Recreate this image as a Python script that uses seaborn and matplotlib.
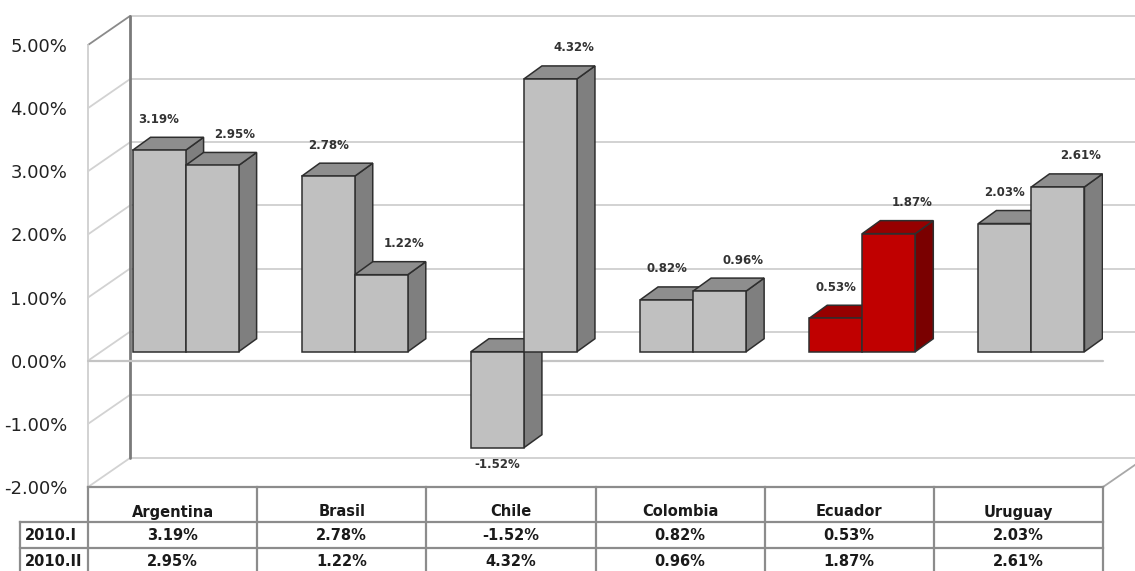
import numpy as np
import pandas as pd
import matplotlib
matplotlib.use("Agg")
import matplotlib.pyplot as plt
import seaborn as sns
from matplotlib.patches import Polygon

# ---------------- data ----------------
countries = ["Argentina", "Brasil", "Chile", "Colombia", "Ecuador", "Uruguay"]
periods = ["2010.I", "2010.II"]
values_2010_I = [3.19, 2.78, -1.52, 0.82, 0.53, 2.03]
values_2010_II = [2.95, 1.22, 4.32, 0.96, 1.87, 2.61]
highlight = "Ecuador"
y_ticks = [-2, -1, 0, 1, 2, 3, 4, 5]

df = pd.DataFrame({
    "country": countries * 2,
    "period": [periods[0]] * len(countries) + [periods[1]] * len(countries),
    "value": values_2010_I + values_2010_II,
})
series_values = {periods[0]: values_2010_I, periods[1]: values_2010_II}

# ---------------- style ----------------
sns.set_style("white")
plt.rcParams["font.family"] = ["DejaVu Sans"]

GRAY = dict(front="#C0C0C0", top="#8E8E8E", side="#7F7F7F")
RED = dict(front="#C00000", top="#960000", side="#7A0000")
EDGE = "#2E2E2E"
GRID = "#D2D2D2"
TABLE_LINE = "#8C8C8C"

W, H = 1135, 571
fig = plt.figure(figsize=(W / 100, H / 100), dpi=100)
fig.patch.set_facecolor("white")

# front plane in pixels
L, R, T, B = 88, 1103, 45, 487
ax = fig.add_axes([L / W, 1 - B / H, (R - L) / W, (B - T) / H])
ax.set_facecolor("none")

sns.barplot(data=df, x="country", y="value", hue="period",
            order=countries, hue_order=periods,
            palette=[GRAY["front"], GRAY["front"]], saturation=1,
            width=0.627, dodge=True, legend=False, errorbar=None,
            edgecolor=EDGE, linewidth=1.1, ax=ax)

ax.set_xlim(-0.5, len(countries) - 0.5)
ax.set_ylim(min(y_ticks), max(y_ticks))
sx = (len(countries)) / (R - L)              # data units per px (x)
sy = (max(y_ticks) - min(y_ticks)) / (B - T)  # data units per px (y)

# depth offsets
bx, by = 42 * sx, 29 * sy      # back wall
fx, fy = 13 * sx, 9 * sy       # bar front plane
dx, dy = 18 * sx, 13 * sy      # bar depth

x_left, x_right = -0.5, len(countries) - 0.5
x_fig_right = x_right + (W - R) * sx + 0.2

# back wall gridlines, side wall lines
for v in y_ticks:
    ax.plot([x_left + bx, x_fig_right], [v + by, v + by], color=GRID, lw=1.4,
            clip_on=False, zorder=0.5, solid_capstyle="butt")
    ax.plot([x_left, x_left + bx], [v, v + by],
            color="#8A8A8A" if v == max(y_ticks) else GRID, lw=1.3,
            clip_on=False, zorder=0.6)
ax.plot([x_left, x_left], [min(y_ticks), max(y_ticks)], color=GRID, lw=1.4,
        clip_on=False, zorder=0.6)
ax.plot([x_left + bx] * 2, [min(y_ticks) + by, max(y_ticks) + by], color="#7A7A7A",
        lw=2.0, clip_on=False, zorder=0.7)
# floor at 0 (front edge)
ax.plot([x_left, x_right], [0, 0], color="#C4C4C4", lw=1.6, clip_on=False, zorder=0.8)
# bottom floor right edge
ax.plot([x_right, x_right + bx], [min(y_ticks), min(y_ticks) + by], color="#A8A8A8",
        lw=1.3, clip_on=False, zorder=0.8)

# ---------------- 3D bars ----------------
bars = sorted(ax.patches, key=lambda p: p.get_x())
for i, p in enumerate(bars):
    x0, w, h = p.get_x(), p.get_width(), p.get_height()
    cat = int(round(x0 + w / 2))
    col = RED if countries[cat] == highlight else GRAY
    x = x0 + fx
    p.set_x(x)
    p.set_y(fy)
    p.set_facecolor(col["front"])
    z = 2 + i * 0.01
    p.set_zorder(z + 0.005)
    top = fy + max(h, 0)
    bot = fy + min(h, 0)
    top_face = Polygon([(x, top), (x + dx, top + dy), (x + w + dx, top + dy), (x + w, top)],
                       closed=True, facecolor=col["top"], edgecolor=EDGE, lw=1.1, zorder=z)
    side_face = Polygon([(x + w, bot), (x + w, top), (x + w + dx, top + dy), (x + w + dx, bot + dy)],
                        closed=True, facecolor=col["side"], edgecolor=EDGE, lw=1.1, zorder=z)
    ax.add_patch(side_face)
    ax.add_patch(top_face)

# ---------------- data labels ----------------
group_w = 0.627
for s, per in enumerate(periods):
    vals = series_values[per]
    for c, v in enumerate(vals):
        xc = c - group_w / 2 + group_w / 4 + s * group_w / 2 + fx
        if s == 1:
            xc += 23 * sx
        if v >= 0:
            y = fy + v + 31 * sy
        else:
            y = fy + v - 17 * sy
        ax.text(xc, y, f"{v:.2f}%", ha="center", va="center", fontsize=8.5,
                fontweight="bold", color="#333333", zorder=10, clip_on=False)

# ---------------- axes cosmetics ----------------
ax.set_yticks(y_ticks)
ax.set_yticklabels([f"{v:.2f}%" for v in y_ticks])
ax.tick_params(axis="y", length=0, pad=15, labelsize=13, labelcolor="#222222")
ax.set_xticks([])
ax.set_xlabel("")
ax.set_ylabel("")
for s in ax.spines.values():
    s.set_visible(False)
ax.grid(False)

# ---------------- data table ----------------
tax = fig.add_axes([L / W, 0, (R - L) / W, (H - B) / H])
tax.set_xlim(x_left, x_right)
tax.set_ylim(H - B, 0)
tax.axis("off")
x_tab_left = x_left - (L - 20) * sx
row_y = [0, 35, 61, 90]
lkw = dict(color=TABLE_LINE, lw=1.6, clip_on=False, solid_capstyle="projecting")
tax.plot([x_left, x_right], [row_y[0], row_y[0]], **lkw)
tax.plot([x_tab_left, x_right], [row_y[1], row_y[1]], **lkw)
tax.plot([x_tab_left, x_right], [row_y[2], row_y[2]], **lkw)
for k in range(len(countries) + 1):
    tax.plot([k - 0.5, k - 0.5], [row_y[0], row_y[3]], **lkw)
tax.plot([x_tab_left, x_tab_left], [row_y[1], row_y[3]], **lkw)

tkw = dict(fontsize=10.5, fontweight="bold", color="#1A1A1A", clip_on=False)
for c, name in enumerate(countries):
    tax.text(c, 25, name, ha="center", va="center", **tkw)
    tax.text(c, 49, f"{values_2010_I[c]:.2f}%", ha="center", va="center", **tkw)
    tax.text(c, 75, f"{values_2010_II[c]:.2f}%", ha="center", va="center", **tkw)
tax.text(x_tab_left + 5 * sx, 49, periods[0], ha="left", va="center", **tkw)
tax.text(x_tab_left + 5 * sx, 75, periods[1], ha="left", va="center", **tkw)

fig.savefig("out.png", dpi=100, facecolor="white")
